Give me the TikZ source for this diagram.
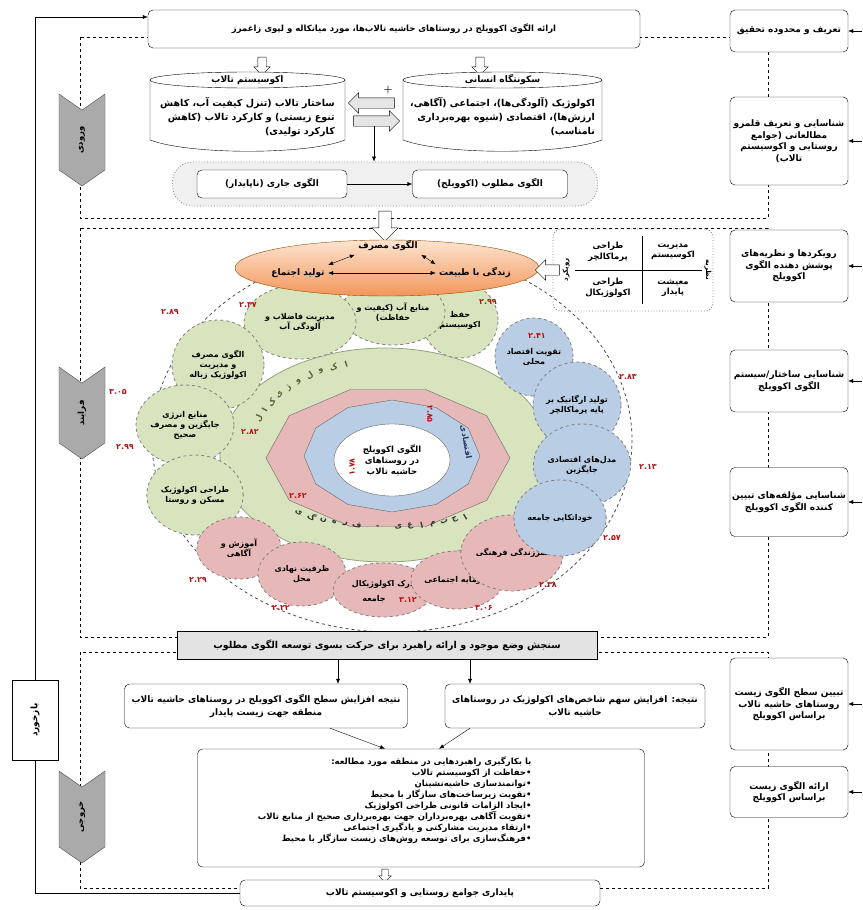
\documentclass[tikz,border=0pt]{standalone}
\usepackage{fontspec}
\newfontfamily\fa[Script=Arabic]{DejaVu Sans}
\TeXXeTstate=1
\usetikzlibrary{arrows.meta,shapes.geometric,shapes.arrows,shapes.symbols,positioning}

\definecolor{satgreen}{RGB}{215,228,189}
\definecolor{satpink}{RGB}{230,185,184}
\definecolor{satblue}{RGB}{185,205,229}
\definecolor{numred}{RGB}{180,20,20}
\definecolor{orangetop}{RGB}{253,228,208}
\definecolor{orangebot}{RGB}{242,150,90}
\definecolor{chevgray}{RGB}{170,170,170}
\definecolor{ringgreen}{RGB}{79,98,40}
\definecolor{ringblue}{RGB}{31,56,100}

\newcommand{\fl}[1]{\beginR #1\endR}
\newcommand{\fs}[2]{\fa\bfseries\fontsize{#1}{#2}\selectfont}

\begin{document}
\begin{tikzpicture}[x=1pt,y=-1pt,
  every node/.style={font=\fs{8.5}{10.5}},
  box/.style={draw,rounded corners=5pt,fill=white,align=center,inner sep=2pt},
  sidebox/.style={box,minimum width=118pt,font=\fs{9}{11.5}},
  hollow/.style={single arrow,draw,fill=white,inner xsep=0pt,inner ysep=4pt,
    single arrow head extend=4pt,minimum height=18pt},
  sec/.style={draw,dashed},
  sat/.style={ellipse,draw=gray,dashed,thick,inner sep=0pt,align=center,font=\fs{8}{10}},
  gsat/.style={sat,fill=satgreen},
  psat/.style={sat,fill=satpink},
  bsat/.style={sat,fill=satblue},
  num/.style={text=numred,inner sep=1pt,font=\fs{8}{9}},
  arr/.style={-{Latex[length=5pt,width=4pt]}},
  biarr/.style={{Latex[length=5pt,width=4pt]}-{Latex[length=5pt,width=4pt]}},
  chev/.style={signal,signal to=west,signal from=east,signal pointer angle=110,
    draw=black!70,fill=chevgray,rotate=90,minimum width=92pt,minimum height=46pt,inner sep=0pt},
  ringlbl/.style={inner sep=0pt,font=\fs{8}{9}}
]
\useasboundingbox (0,0) rectangle (862,910);

% sections
\draw[sec] (80,37) rectangle (768,218);
\draw[sec] (80,228) rectangle (768,637);
\draw[sec] (80,652) rectangle (768,888);

% side column
\node[sidebox,minimum height=42pt] (rb1) at (789,31) {\fl{تعریف و محدوده تحقیق}};
\node[sidebox,minimum height=88pt] (rb2) at (789,141) {\fl{شناسایی و تعریف قلمرو}\\\fl{مطالعاتی (جوامع}\\\fl{روستایی و اکوسیستم}\\\fl{تالاب)}};
\node[sidebox,minimum height=72pt] (rb3) at (789,266) {\fl{رویکردها و نظریه‌های}\\\fl{پوشش دهنده الگوی}\\\fl{اکوویلج}};
\node[sidebox,minimum height=62pt] (rb4) at (789,381) {\fl{شناسایی ساختار/سیستم}\\\fl{الگوی اکوویلج}};
\node[sidebox,minimum height=69pt] (rb5) at (789,502) {\fl{شناسایی مؤلفه‌های تبیین}\\\fl{کننده الگوی اکوویلج}};
\node[sidebox,minimum height=92pt] (rb6) at (789,704) {\fl{تبیین سطح الگوی زیست}\\\fl{روستاهای حاشیه تالاب}\\\fl{براساس اکوویلج}};
\node[sidebox,minimum height=51pt] (rb7) at (789,792) {\fl{ارائه الگوی زیست}\\\fl{براساس اکوویلج}};
\foreach \b in {rb1,rb2,rb3,rb4,rb5,rb6,rb7}
  \draw[arr] ([xshift=14pt]\b.east) -- (\b.east);

% stages
\node[chev] (inp) at (82,140) {\fl{ورودی}};
\node[chev] (proc) at (82,413) {\fl{فرایند}};
\node[chev] (outp) at (82,817) {\fl{خروجی}};

% input
\node[box,minimum width=492pt,minimum height=38pt,font=\fs{8.5}{10}] (head) at (394,29) {\fl{ارائه الگوی اکوویلج در روستاهای حاشیه تالاب‌ها، مورد میانکاله و لپوی زاغمرز}};
\node[hollow,rotate=-90] (ha1) at (262,64) {};
\node[hollow,rotate=-90] (ha2) at (480,64) {};

\draw[fill=white] (150,80) -- (150,140) .. controls (190,155) and (307,155) .. (345,140) -- (345,80) -- cycle;
\draw[fill=white] (247.5,80) ellipse[x radius=97.5,y radius=8];
\node[font=\fs{9}{10}] (ecoT) at (247.5,80) {\fl{اکوسیستم تالاب}};
\node[align=right,font=\fs{9.5}{14}] (ecoB) at (247.5,117) {\fl{ساختار تالاب (تنزل کیفیت آب، کاهش}\\\fl{تنوع زیستی) و کارکرد تالاب (کاهش}\\\fl{کارکرد تولیدی)}};

\draw[fill=white] (403,80) -- (403,140) .. controls (443,155) and (562,155) .. (602,140) -- (602,80) -- cycle;
\draw[fill=white] (502.5,80) ellipse[x radius=99.5,y radius=8];
\node[font=\fs{9}{10}] (humT) at (502.5,80) {\fl{سکونتگاه انسانی}};
\node[align=right,font=\fs{9.5}{14}] (humB) at (502.5,117) {\fl{اکولوژیک (آلودگی‌ها)، اجتماعی (آگاهی،}\\\fl{ارزش‌ها)، اقتصادی (شیوه بهره‌برداری}\\\fl{نامناسب)}};

\node[font=\bfseries] (plus) at (388,90) {+};
\node[hollow,fill=gray!20,rotate=180,minimum height=46pt,inner ysep=5pt,single arrow head extend=5pt] (hl) at (374,103) {};
\node[hollow,fill=gray!20,minimum height=46pt,inner ysep=5pt,single arrow head extend=5pt] (hr) at (374,121) {};

\node[draw=gray,dotted,thick,fill=gray!12,rounded corners=20pt,minimum width=425pt,minimum height=44pt] (pill) at (385,184) {};
\node[box,minimum width=150pt,minimum height=28pt,font=\fs{9}{10}] (cur) at (272,184) {\fl{الگوی جاری (ناپایدار)}};
\node[box,minimum width=155pt,minimum height=28pt,font=\fs{9}{10}] (goal) at (490,184) {\fl{الگوی مطلوب (اکوویلج)}};
\draw[arr] (cur) -- (goal);
\draw[arr] (hr.south) -- (hr.south |- pill.north);
\node[hollow,rotate=-90,minimum height=30pt,inner ysep=6pt,single arrow head extend=7pt] (ha3) at (385,223) {};

% process
\draw[dashed,thick,black!70] (392,440) ellipse[x radius=240,y radius=192];
\draw[draw=ringgreen!60,fill=satgreen,thick] (385,455) ellipse[x radius=165,y radius=107];
\draw[draw=black!60,fill=satpink] plot[variable=\t,samples at={0,36,...,324}] ({388+122*cos(\t)},{458-72*sin(\t)}) -- cycle;
\draw[draw=black!60,fill=satblue] plot[variable=\t,samples at={0,30,...,330}] ({392+88*cos(\t)},{456-56*sin(\t)}) -- cycle;
\draw[draw=black!60,fill=white] (392,460) ellipse[x radius=58,y radius=36];
\node[align=center,font=\fs{8.5}{11}] (core) at (392,460) {\fl{الگوی اکوویلج}\\\fl{در روستاهای}\\\fl{حاشیه تالاب}};

\foreach \ang/\ch [count=\i] in {108/ا,113.5/ک,119/و,124.5/ل,130/و,135.5/ژ,141/ی,146.5/ک,152/ا,157.5/ل}
  \node[ringlbl,text=ringgreen,rotate=\ang-90] (eco\i) at ({390+142*cos(\ang)},{455-96*sin(\ang)}) {\ch};
\foreach \ang/\ch [count=\i] in {301/ا,296.5/ج,292/ت,287.5/م,283/ا,278.5/ع,274/ی,266/-,258/ف,253.5/ر,249/ه,244.5/ن,239.5/گ,233.5/ی}
  \node[ringlbl,text=black!80,rotate=\ang+90] (soc\i) at ({388+150*cos(\ang)},{455-72*sin(\ang)}) {\ch};
\node[ringlbl,text=ringblue,rotate=-80] (econ) at (466,442) {\fl{اقتصادی}};

% satellites
\node[gsat,minimum width=76pt,minimum height=76pt] (g1) at (460,320) {\fl{حفظ}\\\fl{اکوسیستم}};
\node[gsat,minimum width=104pt,minimum height=66pt] (g2) at (393,312) {\fl{منابع آب (کیفیت و}\\\fl{حفاظت)}};
\node[gsat,minimum width=112pt,minimum height=74pt] (g3) at (300,322) {\fl{مدیریت فاضلاب و}\\\fl{آلودگی آب}};
\node[gsat,minimum width=92pt,minimum height=90pt] (g4) at (218,365) {\fl{الگوی مصرف}\\\fl{و مدیریت}\\\fl{اکولوژیک زباله}};
\node[gsat,minimum width=88pt,minimum height=80pt] (g5) at (185,425) {\fl{منابع انرژی}\\\fl{جایگزین و مصرف}\\\fl{صحیح}};
\node[gsat,minimum width=92pt,minimum height=80pt] (g6) at (195,495) {\fl{طراحی اکولوژیک}\\\fl{مسکن و روستا}};
\node[psat,minimum width=84pt,minimum height=62pt] (p1) at (239,548) {\fl{آموزش و}\\\fl{آگاهی}};
\node[psat,minimum width=88pt,minimum height=64pt] (p2) at (302,574) {\fl{ظرفیت نهادی}\\\fl{محل}};
\node[psat,minimum width=100pt,minimum height=54pt,text depth=14pt] (p3) at (383,590) {\fl{درک اکولوژیکال}};
\node[inner sep=1pt,font=\fs{8}{10}] (p3b) at (374,599) {\fl{جامعه}};
\node[psat,minimum width=90pt,minimum height=58pt] (p4) at (457,580) {\fl{سرمایه اجتماعی}};
\node[psat,minimum width=92pt,minimum height=76pt] (p5) at (512,553) {\fl{سرزندگی فرهنگی}};
\node[bsat,minimum width=78pt,minimum height=78pt] (b1) at (534,357) {\fl{تقویت اقتصاد}\\\fl{محلی}};
\node[bsat,minimum width=88pt,minimum height=86pt] (b2) at (577,405) {\fl{تولید ارگانیک بر}\\\fl{پایه پرماکالچر}};
\node[bsat,minimum width=84pt,minimum height=82pt] (b3) at (582,465) {\fl{مدل‌های اقتصادی}\\\fl{جایگزین}};
\node[bsat,minimum width=78pt,minimum height=76pt] (b4) at (560,518) {\fl{خوداتکایی جامعه}};

% scores
\node[num] (n1) at (170,312) {۲.۸۹};
\node[num] (n2) at (248,305) {۲.۳۷};
\node[num] (n3) at (392,290) {۲.۹۰};
\node[num] (n4) at (488,302) {۲.۹۹};
\node[num] (n5) at (537,336) {۲.۴۱};
\node[num] (n6) at (628,377) {۲.۸۳};
\node[num] (n7) at (118,392) {۳.۰۵};
\node[num] (n8) at (250,432) {۲.۸۲};
\node[num] (n9) at (648,467) {۲.۱۳};
\node[num] (n10) at (125,447) {۲.۹۹};
\node[num] (n11) at (298,496) {۲.۶۲};
\node[num] (n12) at (612,538) {۲.۵۷};
\node[num] (n13) at (198,580) {۲.۲۹};
\node[num] (n14) at (548,585) {۲.۳۸};
\node[num] (n15) at (281,608) {۲.۲۲};
\node[num] (n16) at (408,600) {۳.۱۲};
\node[num] (n17) at (484,608) {۳.۰۶};
\node[num,rotate=-90] (n18) at (430,414) {۲.۸۵};
\node[num,rotate=90] (n19) at (352,467) {۱.۷۸};

% dimensions
\node[ellipse,draw=orange!60!black,top color=orangetop,bottom color=orangebot,minimum width=304pt,minimum height=56pt] (life) at (387,268) {};
\node[font=\fs{9}{10}] (cons) at (388,246) {\fl{الگوی مصرف}};
\node[font=\fs{9}{10}] (prod) at (298,273) {\fl{تولید اجتماع}};
\node[font=\fs{9}{10}] (nat) at (475,273) {\fl{زندگی با طبیعت}};
\draw[biarr] (prod) -- (nat);
\draw[biarr] (prod.north east) -- (cons.south west);
\draw[biarr] (nat.north west) -- (cons.south east);

\node[draw=gray,dotted,thick,rounded corners=8pt,minimum width=160pt,minimum height=82pt] (theo) at (633,270) {};
\draw (642,236) -- (642,304);
\draw (575,270) -- (702,270);
\node[align=center] (t1) at (673,252) {\fl{مدیریت}\\\fl{اکوسیستم}};
\node[align=center] (t2) at (608,252) {\fl{طراحی}\\\fl{پرماکالچر}};
\node[align=center] (t3) at (673,288) {\fl{معیشت}\\\fl{پایدار}};
\node[align=center] (t4) at (608,288) {\fl{طراحی}\\\fl{اکولوژیکال}};
\node[rotate=90,font=\fs{7}{8}] (theoL) at (566,270) {\fl{رویکرد}};
\node[rotate=-90,font=\fs{7}{8}] (theoR) at (708,270) {\fl{نظریه}};
\node[hollow,rotate=180,minimum height=24pt,inner ysep=5pt,single arrow head extend=5pt] (ha4) at (550,270) {};

% output
\node[draw,thick,fill=gray!22,minimum width=420pt,minimum height=28pt,font=\fs{9.5}{11}] (sanj) at (387,645) {\fl{سنجش وضع موجود و ارائه راهبرد برای حرکت بسوی توسعه الگوی مطلوب}};
\node[box,minimum width=283pt,minimum height=44pt,font=\fs{9}{13}] (resL) at (266,706) {\fl{نتیجه افزایش سطح الگوی اکوویلج در روستاهای حاشیه تالاب}\\\fl{منطقه جهت زیست پایدار}};
\node[box,minimum width=260pt,minimum height=44pt,font=\fs{9}{13}] (resR) at (575,706) {\fl{نتیجه: افزایش سهم شاخص‌های اکولوژیک در روستاهای}\\\fl{حاشیه تالاب}};
\coordinate (s1) at ([xshift=-49pt]sanj.south);
\coordinate (s2) at ([xshift=83pt]sanj.south);
\draw[arr] (s1) -- (s1 |- resL.north);
\draw[arr] (s2) -- (s2 |- resR.north);

\node[box,minimum width=447pt,minimum height=118pt] (strat) at (421,808) {};
\node[align=right,anchor=north east,font=\fs{8.5}{11}] (stratT) at (535,753) {\fl{با بکارگیری راهبردهایی در منطقه مورد مطالعه:}\\\fl{•حفاظت از اکوسیستم تالاب}\\\fl{•توانمندسازی حاشیه‌نشینان}\\\fl{•تقویت زیرساخت‌های سازگار با محیط}\\\fl{•ایجاد الزامات قانونی طراحی اکولوژیک}\\\fl{•تقویت آگاهی بهره‌برداران جهت بهره‌برداری صحیح از منابع تالاب}\\\fl{•ارتقاء مدیریت مشارکتی و یادگیری اجتماعی}\\\fl{•فرهنگ‌سازی برای توسعه روش‌های زیست سازگار با محیط}};
\draw[arr] ([xshift=64pt]resL.south) -- ([xshift=-36pt]strat.north);
\draw[arr] ([xshift=-105pt]resR.south) -- ([xshift=18pt]strat.north);
\node[hollow,rotate=-90,minimum height=13pt,inner ysep=3pt,single arrow head extend=3pt] (ha5) at (385,874) {};
\node[box,minimum width=360pt,minimum height=26pt,font=\fs{9}{10}] (fin) at (420,893) {\fl{پایداری جوامع روستایی و اکوسیستم تالاب}};

% feedback
\node[draw,fill=white,rotate=90,minimum width=80pt,minimum height=46pt,font=\fs{9}{10}] (fb) at (35,720) {\fl{بازخورد}};
\coordinate (fbIn) at ([yshift=12pt]head.west);
\draw (fin.west) -| (fb.west);
\draw[arr] (fb.east) |- (fbIn);
\end{tikzpicture}
\end{document}
